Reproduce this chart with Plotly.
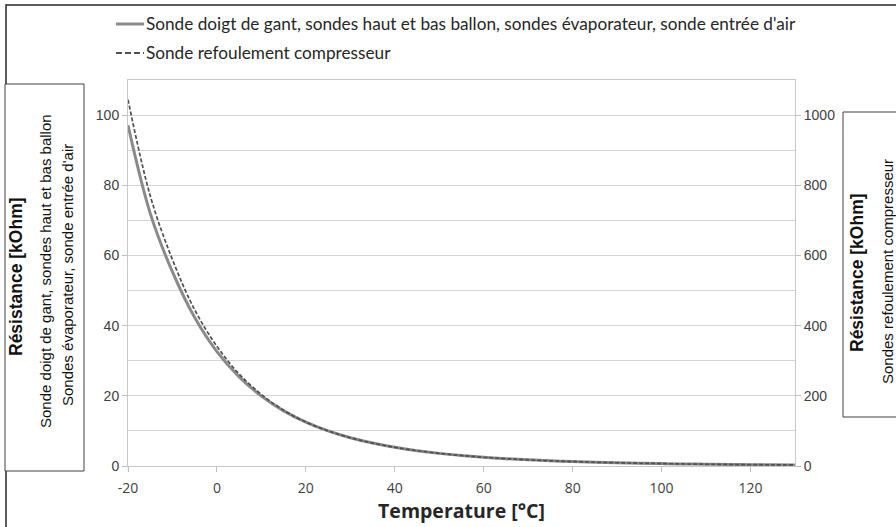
import plotly.graph_objects as go

# Temperature (°C)
temperature = [-20, -15, -10, -5, 0, 5, 10, 15, 20, 25, 30, 35, 40, 45, 50, 55, 60,
               65, 70, 75, 80, 85, 90, 95, 100, 105, 110, 115, 120, 125, 130]

# Sonde doigt de gant, haut/bas ballon, évaporateur, entrée d'air (kOhm, left axis)
r_sondes = [97.1, 72.0, 55.3, 42.3, 32.6, 25.4, 19.9, 15.7, 12.5, 10.0, 8.06, 6.53,
            5.33, 4.37, 3.60, 2.99, 2.49, 2.09, 1.75, 1.48, 1.26, 1.07, 0.92, 0.79,
            0.68, 0.58, 0.51, 0.44, 0.39, 0.34, 0.30]

# Sonde refoulement compresseur (kOhm, right axis)
r_refoulement = [1044, 770, 588, 445, 341, 262, 204, 159, 125, 100, 80.6, 65.3,
                 53.3, 43.7, 36.0, 29.9, 24.9, 20.9, 17.5, 14.8, 12.6, 10.7, 9.2, 7.9,
                 6.8, 5.8, 5.1, 4.4, 3.9, 3.4, 3.0]

x_ticks = [-20, 0, 20, 40, 60, 80, 100, 120]
y_left_ticks = [0, 20, 40, 60, 80, 100]
y_right_ticks = [0, 200, 400, 600, 800, 1000]

name_sondes = "Sonde doigt de gant, sondes haut et bas ballon, sondes évaporateur, sonde entrée d'air"
name_refoulement = 'Sonde refoulement compresseur'

W, H = 896, 527
L, R, T, B = 128, 795, 80, 466


def px(x):
    return (x - L) / (R - L)


def py(y):
    return (B - y) / (B - T)


solid_style = dict(color='#8a8a8a', width=3)
dash_style = dict(color='#505050', width=1.7, dash='4px,2px')

fig = go.Figure()

fig.add_trace(go.Scatter(x=temperature, y=r_sondes, mode='lines', line_shape='spline',
                         name=name_sondes, line=solid_style))
fig.add_trace(go.Scatter(x=temperature, y=r_refoulement, mode='lines', line_shape='spline',
                         name=name_refoulement, yaxis='y2', line=dash_style))

axis_font = dict(family='Liberation Sans, Arial', size=14, color='#404040')

fig.update_layout(
    width=W, height=H,
    margin=dict(l=L, r=W - R, t=T, b=H - B),
    paper_bgcolor='white', plot_bgcolor='white',
    showlegend=False,
    xaxis=dict(range=[-20, 130], tickvals=x_ticks, ticktext=[str(v) for v in x_ticks],
               ticks='outside', ticklen=5, tickcolor='#bfbfbf', showgrid=False,
               zeroline=False, showline=True, linecolor='#c8c8c8', mirror=True,
               ticklabelstandoff=4,
               tickfont=dict(family='Open Sans', size=14, color='#404040'),
               title=dict(text='<b>Temperature [°C]</b>', standoff=0,
                          font=dict(family='Open Sans', size=19.5, color='#262626'))),
    yaxis=dict(range=[0, 110], tickvals=y_left_ticks, ticks='outside', ticklen=5,
               tickcolor='#bfbfbf', showgrid=True, gridcolor='#d4d4d4',
               zeroline=False, showline=True, linecolor='#c8c8c8', mirror=True,
               minor=dict(dtick=10, showgrid=True, gridcolor='#d4d4d4'),
               tickfont=axis_font),
    yaxis2=dict(range=[0, 1100], tickvals=y_right_ticks, overlaying='y', side='right',
                ticks='outside', ticklen=5, tickcolor='#bfbfbf', showgrid=False,
                zeroline=False, showline=False, tickfont=axis_font),
)

# outer chart frame
fig.add_shape(type='rect', xref='paper', yref='paper',
              x0=px(6), x1=px(905), y0=py(540), y1=py(5),
              line=dict(color='#262626', width=1.5), layer='above')

# legend (drawn by hand so both rows sit where the reference puts them)
legend_font = dict(family='Lato', size=17.2, color='#262626')
for y, style, label in [(24, solid_style, name_sondes),
                        (53, dict(dash_style, width=1.8, dash='6px,3px'), name_refoulement)]:
    fig.add_shape(type='line', xref='paper', yref='paper',
                  x0=px(116), x1=px(144), y0=py(y), y1=py(y), line=style)
    fig.add_annotation(x=px(144), y=py(y), xref='paper', yref='paper', text=label,
                       showarrow=False, font=legend_font, xanchor='left', yanchor='middle')

# axis title boxes
fig.add_shape(type='rect', xref='paper', yref='paper',
              x0=px(5), x1=px(84), y0=py(471), y1=py(84),
              line=dict(color='#404040', width=1), fillcolor='white')
fig.add_shape(type='rect', xref='paper', yref='paper',
              x0=px(843), x1=px(905), y0=py(417), y1=py(112),
              line=dict(color='#404040', width=1), fillcolor='white')

bold_font = dict(family='Liberation Sans, Arial', size=17.5, color='#111111')
reg_font = dict(family='Liberation Sans, Arial', size=15, color='#111111')

texts = [
    (16, 277, '<b>Résistance [kOhm]</b>', bold_font),
    (45, 271, 'Sonde doigt de gant, sondes haut et bas ballon', reg_font),
    (67, 275, "Sondes évaporateur, sonde entrée d'air", reg_font),
    (857, 273, '<b>Résistance [kOhm]</b>', bold_font),
    (887, 272, 'Sondes refoulement compresseur', reg_font),
]
for x, y, t, f in texts:
    fig.add_annotation(x=px(x), y=py(y), xref='paper', yref='paper', text=t,
                       textangle=-90, showarrow=False, font=f,
                       xanchor='center', yanchor='middle')

fig.write_html('out.html', config={'displayModeBar': False},
               post_script="document.body.style.margin='0';")
